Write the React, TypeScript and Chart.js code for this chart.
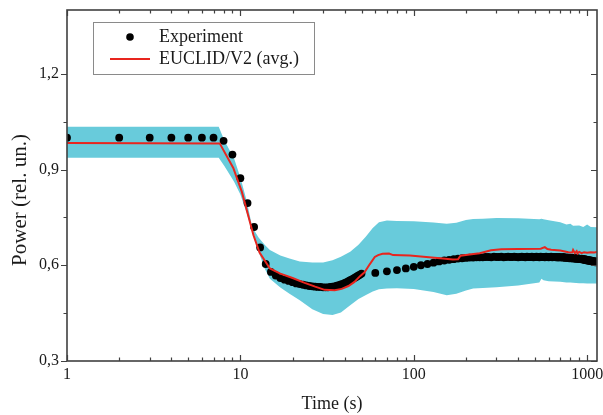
import React, { useEffect, useRef } from "react";
import { Chart, registerables } from "chart.js";

Chart.register(...registerables);

const X_MIN = 1;
const X_MAX = 1140;
const Y_MIN = 0.3;
const Y_MAX = 1.4;
const Y_STEP = 0.15;

const xTitle = "Time (s)";
const yTitle = "Power (rel. un.)";
const legendExp = "Experiment";
const legendSim = "EUCLID/V2 (avg.)";

// Experiment: one sample per second from 1 s to 50 s
const expSecond = [
  1.0, 1.0, 1.0, 1.0, 1.0, 1.0, 1.0, 0.99, 0.947, 0.873,
  0.795, 0.72, 0.656, 0.604, 0.579, 0.568, 0.56, 0.555, 0.551, 0.547,
  0.543, 0.541, 0.539, 0.537, 0.535, 0.534, 0.533, 0.532, 0.532, 0.531,
  0.531, 0.531, 0.532, 0.533, 0.534, 0.536, 0.538, 0.54, 0.542, 0.545,
  0.547, 0.55, 0.553, 0.556, 0.559, 0.562, 0.565, 0.568, 0.571, 0.574,
];
// Experiment: one sample every 10 s from 60 s to 1140 s
const expTen = [
  0.576, 0.581, 0.585, 0.59, 0.595, 0.6, 0.604, 0.608, 0.612, 0.615, 0.617, 0.619, 0.621, 0.622, 0.623,
  0.624, 0.624, 0.625, 0.625, 0.625, 0.626, 0.626, 0.625, 0.627, 0.626, 0.626, 0.627, 0.625, 0.626, 0.627,
  0.626, 0.626, 0.627, 0.626, 0.625,
  0.626, 0.627, 0.626, 0.625, 0.627, 0.626, 0.626, 0.627, 0.625, 0.626, 0.627, 0.626, 0.625, 0.627, 0.626,
  0.626, 0.625, 0.627, 0.626, 0.625, 0.626, 0.627, 0.625, 0.626, 0.626, 0.625, 0.626, 0.624, 0.626, 0.625,
  0.625, 0.624, 0.626, 0.624, 0.623, 0.625, 0.623, 0.624, 0.622, 0.624, 0.622, 0.623, 0.621, 0.623, 0.621,
  0.622, 0.62, 0.622, 0.62, 0.621,
  0.62, 0.619, 0.621, 0.618, 0.62, 0.617, 0.619, 0.616, 0.618, 0.615, 0.617, 0.614, 0.616, 0.613, 0.615,
  0.613, 0.612, 0.614, 0.611, 0.613, 0.61, 0.612, 0.609, 0.611,
];

// Simulation average (red line)
const simTime = [
  1, 7.6, 9.1, 10.2, 11.9, 12.9, 14.8, 17, 20, 23.5, 27, 30.6, 35, 38.4, 42, 45.5, 49, 52, 55.7, 59.6,
  62.3, 66, 72, 76, 95, 118, 147, 168, 180, 186, 210, 240, 279, 320, 400, 540, 570, 590, 620, 700,
  780, 820, 830, 850, 870, 880, 900, 930, 960, 1000, 1050, 1100, 1140,
];
const simValue = [
  0.983, 0.982, 0.905, 0.83, 0.694, 0.64, 0.59, 0.574, 0.56, 0.545, 0.533, 0.523, 0.522, 0.526, 0.535, 0.548, 0.566, 0.578, 0.603, 0.626,
  0.632, 0.636, 0.637, 0.632, 0.631, 0.626, 0.621, 0.618, 0.619, 0.63, 0.634, 0.638, 0.647, 0.65, 0.651, 0.652, 0.657, 0.651, 0.649, 0.646,
  0.641, 0.64, 0.648, 0.638, 0.644, 0.637, 0.642, 0.638, 0.641, 0.639, 0.641, 0.64, 0.642,
];

// Uncertainty band
const bandTime = [
  1, 7.5, 8.1, 9.2, 10, 10.9, 11.7, 12.7, 13.8, 14.8, 17, 19.2, 22, 26, 30, 34, 38, 43, 48, 53,
  58, 63, 70, 80, 100, 130, 155, 176, 200, 220, 250, 300, 400, 530, 545, 560, 600, 700, 760, 800,
  830, 900, 950, 1000, 1050, 1140,
];
const bandUpper = [
  1.034, 1.034, 0.99, 0.935, 0.875, 0.8, 0.72, 0.688, 0.664, 0.648, 0.631, 0.621, 0.612, 0.609, 0.609, 0.616, 0.627, 0.642, 0.664, 0.69,
  0.717, 0.735, 0.74, 0.739, 0.738, 0.734, 0.73, 0.733, 0.742, 0.745, 0.746, 0.748, 0.747, 0.744, 0.746, 0.744, 0.741, 0.735, 0.728, 0.73,
  0.724, 0.725, 0.72, 0.728, 0.72, 0.719,
];
const bandLower = [
  0.937, 0.937, 0.91, 0.862, 0.822, 0.762, 0.705, 0.645, 0.59, 0.558, 0.53, 0.511, 0.49, 0.462, 0.447, 0.444, 0.452, 0.475, 0.494, 0.507,
  0.518, 0.525, 0.527, 0.528, 0.526, 0.516, 0.506, 0.511, 0.521, 0.527, 0.529, 0.531, 0.537, 0.546, 0.558, 0.553, 0.55, 0.548, 0.546, 0.546,
  0.545, 0.544, 0.544, 0.543, 0.543, 0.543,
];

const FONT = "'Liberation Serif', 'Times New Roman', serif";
const BAND_COLOR = "#68CBDB";
const RED = "#E8251E";
const FRAME = "#404040";
const TEXT = "#1a1a1a";

const isPow10 = (v: number) => {
  const l = Math.log10(v);
  return Math.abs(l - Math.round(l)) < 1e-9;
};
const isMajorY = (v: number) => {
  const r = v / 0.3;
  return Math.abs(r - Math.round(r)) < 1e-6;
};

const framePlugin = {
  id: "frameTicks",
  afterDatasetsDraw(chart: any) {
    const { ctx, chartArea } = chart;
    const { left, right, top, bottom } = chartArea;
    const xs = chart.scales.x;
    const ys = chart.scales.y;
    ctx.save();
    ctx.strokeStyle = FRAME;
    ctx.lineWidth = 1.2;
    ctx.beginPath();
    xs.ticks.forEach((t: any) => {
      const v = t.value;
      const m = v / Math.pow(10, Math.floor(Math.log10(v) + 1e-9));
      if (Math.abs(m - Math.round(m)) > 1e-6) return;
      const px = Math.round(xs.getPixelForValue(v)) + 0.5;
      if (px < left - 1 || px > right + 1) return;
      const len = isPow10(v) ? 6 : 3.5;
      ctx.moveTo(px, bottom);
      ctx.lineTo(px, bottom - len);
      ctx.moveTo(px, top);
      ctx.lineTo(px, top + len);
    });
    ys.ticks.forEach((t: any) => {
      const v = t.value;
      const r = v / Y_STEP;
      if (Math.abs(r - Math.round(r)) > 1e-6) return;
      const py = Math.round(ys.getPixelForValue(v)) + 0.5;
      const len = isMajorY(v) ? 6 : 3.5;
      ctx.moveTo(left, py);
      ctx.lineTo(left - len, py);
      ctx.moveTo(right, py);
      ctx.lineTo(right - len, py);
    });
    ctx.stroke();
    ctx.lineWidth = 1.6;
    ctx.strokeRect(left, top, right - left, bottom - top);
    ctx.restore();
  },
  afterDraw(chart: any) {
    const { ctx } = chart;
    ctx.save();
    // y-axis title
    ctx.save();
    ctx.translate(20, 200);
    ctx.rotate(-Math.PI / 2);
    ctx.fillStyle = TEXT;
    ctx.font = `21px ${FONT}`;
    ctx.textAlign = "center";
    ctx.textBaseline = "middle";
    ctx.fillText(yTitle, 0, 0);
    ctx.restore();
    // legend
    ctx.fillStyle = "#ffffff";
    ctx.fillRect(93.5, 22.5, 221, 52);
    ctx.strokeStyle = "#8a8a8a";
    ctx.lineWidth = 1;
    ctx.strokeRect(93.5, 22.5, 221, 52);
    ctx.fillStyle = "#000";
    ctx.beginPath();
    ctx.arc(130, 37, 3.8, 0, Math.PI * 2);
    ctx.fill();
    ctx.strokeStyle = RED;
    ctx.lineWidth = 2;
    ctx.beginPath();
    ctx.moveTo(110, 59);
    ctx.lineTo(150, 59);
    ctx.stroke();
    ctx.fillStyle = TEXT;
    ctx.font = `18px ${FONT}`;
    ctx.textBaseline = "middle";
    ctx.textAlign = "left";
    ctx.fillText(legendExp, 159, 37);
    ctx.fillText(legendSim, 159, 59);
    ctx.restore();
  },
};

export default function App() {
  const ref = useRef<HTMLCanvasElement>(null);

  useEffect(() => {
    if (!ref.current) return;
    const expData = [
      ...expSecond.map((v, i) => ({ x: i + 1, y: v })),
      ...expTen.map((v, i) => ({ x: 60 + 10 * i, y: v })),
    ];
    const simData = simTime.map((t, i) => ({ x: t, y: simValue[i] }));
    const upData = bandTime.map((t, i) => ({ x: t, y: bandUpper[i] }));
    const loData = bandTime.map((t, i) => ({ x: t, y: bandLower[i] }));

    const chart = new Chart(ref.current, {
      type: "line",
      data: {
        datasets: [
          {
            label: legendSim,
            data: simData,
            borderColor: RED,
            borderWidth: 2,
            pointRadius: 0,
            fill: false,
            tension: 0,
            clip: 0,
          } as any,
          {
            label: legendExp,
            data: expData,
            showLine: false,
            pointRadius: 3.9,
            pointBackgroundColor: "#000",
            pointBorderColor: "#000",
            pointBorderWidth: 0,
            borderColor: "#000",
            clip: 0,
          } as any,
          {
            label: "upper",
            data: upData,
            borderWidth: 0,
            borderColor: BAND_COLOR,
            pointRadius: 0,
            backgroundColor: BAND_COLOR,
            fill: "+1",
            tension: 0,
            clip: 0,
          } as any,
          {
            label: "lower",
            data: loData,
            borderWidth: 0,
            borderColor: BAND_COLOR,
            pointRadius: 0,
            fill: false,
            tension: 0,
            clip: 0,
          } as any,
        ],
      },
      options: {
        animation: false,
        responsive: false,
        maintainAspectRatio: false,
        layout: { padding: { top: 10, right: 6, left: 0, bottom: 0 } },
        plugins: {
          legend: { display: false },
          tooltip: { enabled: false },
        },
        scales: {
          x: {
            type: "logarithmic",
            min: X_MIN,
            max: X_MAX,
            grid: { display: false, drawTicks: false },
            border: { display: false },
            ticks: {
              autoSkip: false,
              maxRotation: 0,
              padding: 4,
              color: TEXT,
              font: { family: FONT, size: 16 },
              callback: (v: any) => (isPow10(Number(v)) ? String(Math.round(Number(v))) : ""),
            },
            title: {
              display: true,
              text: xTitle,
              color: TEXT,
              font: { family: FONT, size: 18 },
              padding: { top: 0, bottom: 0 },
            },
            afterFit: (s: any) => {
              s.height = 54;
              s.paddingLeft = 0;
              s.paddingRight = 0;
            },
          },
          y: {
            type: "linear",
            min: Y_MIN,
            max: Y_MAX,
            grid: { display: false, drawTicks: false },
            border: { display: false },
            ticks: {
              stepSize: Y_STEP,
              padding: 8,
              color: TEXT,
              font: { family: FONT, size: 16 },
              callback: (v: any) => {
                const n = Number(v);
                return isMajorY(n) && n < 1.39 ? n.toFixed(1).replace(".", ",") : "";
              },
            },
            title: { display: false },
            afterFit: (s: any) => {
              s.width = 67;
              s.paddingTop = 0;
              s.paddingBottom = 0;
            },
          },
        },
      } as any,
      plugins: [framePlugin],
    });
    return () => chart.destroy();
  }, []);

  return (
    <div style={{ position: "fixed", left: 0, top: 0, width: 603, height: 415, background: "#fff" }}>
      <canvas ref={ref} width={603} height={415} style={{ display: "block", width: 603, height: 415 }} />
    </div>
  );
}
